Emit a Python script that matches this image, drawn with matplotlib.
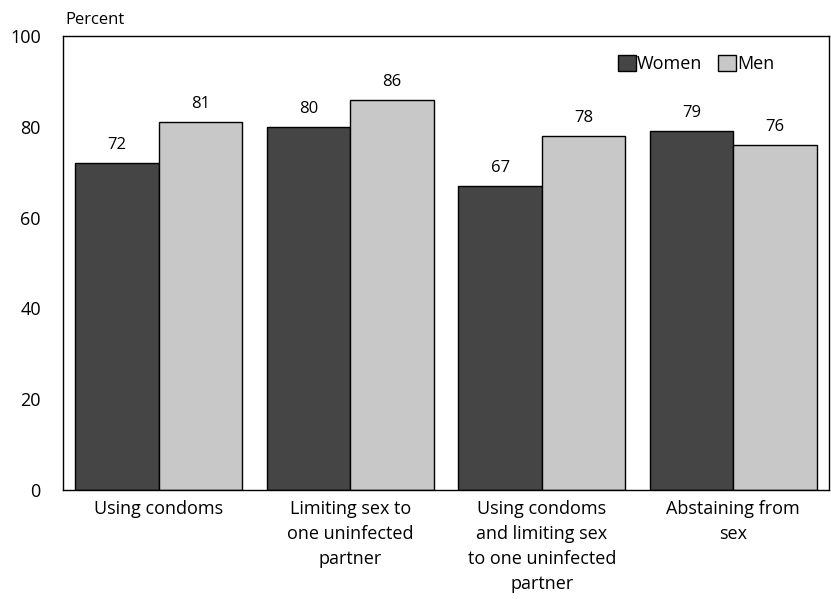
import matplotlib
matplotlib.use("Agg")
import matplotlib.pyplot as plt
import numpy as np

categories = [
    "Using condoms",
    "Limiting sex to\none uninfected\npartner",
    "Using condoms\nand limiting sex\nto one uninfected\npartner",
    "Abstaining from\nsex",
]
women = [72, 80, 67, 79]
men = [81, 86, 78, 76]
yticks = [0, 20, 40, 60, 80, 100]

plt.rcParams["font.family"] = ["Open Sans", "DejaVu Sans"]

fig = plt.figure(figsize=(8.31, 5.99), dpi=100)
ax = fig.add_axes([63 / 831, 1 - 490 / 599, 766 / 831, 454 / 599])

x = np.arange(len(categories))
w = 0.435
b1 = ax.bar(x - w / 2, women, w, color="#454545", edgecolor="black", linewidth=1, label="Women")
b2 = ax.bar(x + w / 2, men, w, color="#c8c8c8", edgecolor="black", linewidth=1, label="Men")

for bars, vals in ((b1, women), (b2, men)):
    for bar, v in zip(bars, vals):
        ax.text(bar.get_x() + bar.get_width() / 2, v + 2.2, str(v),
                ha="center", va="bottom", fontsize=12)

ax.set_xlim(-0.5, 3.5)
ax.set_ylim(0, 100)
ax.set_yticks(yticks)
ax.set_xticks(x)
ax.set_xticklabels(categories, fontsize=13, linespacing=1.5)
ax.tick_params(axis="y", length=0, labelsize=13, pad=16)
ax.tick_params(axis="x", length=0, pad=7)
for s in ax.spines.values():
    s.set_linewidth(1)

fig.text(63 / 831 + 0.003, 1 - 20 / 599, "Percent", fontsize=12, ha="left", va="center")

ax.legend(loc="upper right", bbox_to_anchor=(0.95, 0.995), frameon=False, fontsize=13,
          ncol=2, handlelength=1.0, handleheight=1.0, handletextpad=0.05,
          columnspacing=0.9)

fig.savefig("out.png", dpi=100)
